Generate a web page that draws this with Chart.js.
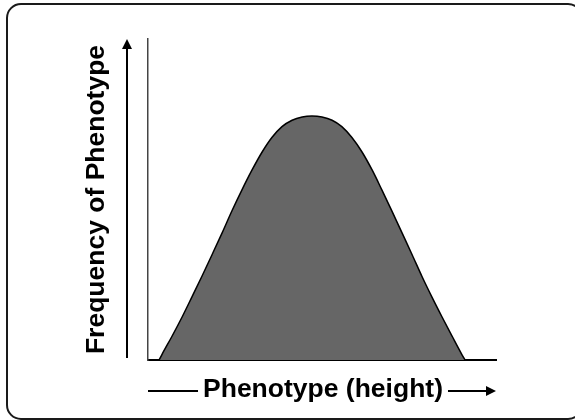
<!DOCTYPE html>
<html>
<head>
<meta charset="utf-8">
<script src="https://cdn.jsdelivr.net/npm/chart.js@4/dist/chart.umd.min.js"></script>
<style>
  html, body { margin: 0; padding: 0; background: #fff; overflow: hidden; }
  canvas { display: block; }
</style>
</head>
<body>
<canvas id="c" width="575" height="420"></canvas>
<script>
// Phenotype (height) positions, arbitrary units 0..100
const heights = [3.2, 4.0, 6.9, 9.8, 12.6, 15.5, 18.4, 21.3, 24.1, 27.0, 29.9, 32.8, 35.6, 38.5, 41.4, 44.3, 47.1,
                 50.0, 52.9, 55.7, 58.6, 61.5, 64.4, 67.2, 70.1, 73.0, 75.9, 78.7, 81.6, 84.5, 87.4, 90.2, 91.1];
// Frequency of phenotype, arbitrary units 0..100
const frequencies = [0, 1.7, 7.4, 13.4, 19.6, 26.1, 32.8, 39.6, 46.4, 53.0, 59.2, 64.8, 69.3, 72.7, 74.7, 75.7, 76.0,
                     75.7, 74.7, 72.7, 69.3, 64.8, 59.2, 53.0, 46.4, 39.6, 32.8, 26.1, 19.6, 13.4, 7.4, 1.7, 0];
const xTitle = "Phenotype (height)";
const yTitle = "Frequency of Phenotype";

const FONT = 'bold 26.5px "Liberation Sans", Arial, Helvetica, sans-serif';

const frame = {
  id: 'frame',
  beforeDraw(chart) {
    const ctx = chart.ctx;
    ctx.save();
    ctx.strokeStyle = '#1a1a1a';
    ctx.lineWidth = 2;
    ctx.beginPath();
    ctx.roundRect(7, 4, 575, 415, 14);
    ctx.stroke();
    ctx.restore();
  }
};

const decor = {
  id: 'decor',
  afterDraw(chart) {
    const ctx = chart.ctx;
    const a = chart.chartArea;
    ctx.save();
    ctx.fillStyle = '#000';
    ctx.strokeStyle = '#000';
    ctx.lineWidth = 2;
    // Y arrow
    const ax = a.left - 21;
    ctx.beginPath();
    ctx.moveTo(ax, a.bottom - 2);
    ctx.lineTo(ax, a.top + 8);
    ctx.stroke();
    ctx.beginPath();
    ctx.moveTo(ax, a.top);
    ctx.lineTo(ax - 5, a.top + 10);
    ctx.lineTo(ax + 5, a.top + 10);
    ctx.closePath();
    ctx.fill();
    // Y title
    ctx.font = FONT;
    ctx.textAlign = 'center';
    ctx.textBaseline = 'alphabetic';
    ctx.save();
    ctx.translate(a.left - 44, (a.top + a.bottom) / 2);
    ctx.rotate(-Math.PI / 2);
    ctx.fillText(yTitle, 0, 0);
    ctx.restore();
    // X title
    const cx = 323, by = a.bottom + 37;
    ctx.fillText(xTitle, cx, by);
    const tw = ctx.measureText(xTitle).width;
    const ly = a.bottom + 31;
    ctx.beginPath();
    ctx.moveTo(a.left, ly);
    ctx.lineTo(cx - tw / 2 - 5, ly);
    ctx.stroke();
    ctx.beginPath();
    ctx.moveTo(cx + tw / 2 + 5, ly);
    ctx.lineTo(a.right - 8, ly);
    ctx.stroke();
    ctx.beginPath();
    ctx.moveTo(a.right, ly);
    ctx.lineTo(a.right - 10, ly - 5);
    ctx.lineTo(a.right - 10, ly + 5);
    ctx.closePath();
    ctx.fill();
    ctx.restore();
  }
};

new Chart(document.getElementById('c'), {
  type: 'line',
  data: {
    datasets: [{
      data: heights.map((h, i) => ({ x: h, y: frequencies[i] })),
      borderColor: '#000',
      borderWidth: 1.5,
      backgroundColor: '#666666',
      fill: 'origin',
      pointRadius: 0,
      cubicInterpolationMode: 'monotone'
    }]
  },
  options: {
    responsive: false,
    animation: false,
    devicePixelRatio: 1,
    layout: { padding: { left: 148, right: 79, top: 39, bottom: 60 } },
    plugins: { legend: { display: false }, tooltip: { enabled: false } },
    scales: {
      x: {
        type: 'linear', min: 0, max: 100,
        grid: { display: false, drawTicks: false },
        ticks: { display: false },
        border: { display: true, color: '#000', width: 2 }
      },
      y: {
        min: 0, max: 100,
        grid: { display: false, drawTicks: false },
        ticks: { display: false },
        border: { display: true, color: '#444', width: 1.5 }
      }
    }
  },
  plugins: [frame, decor]
});
</script>
</body>
</html>
